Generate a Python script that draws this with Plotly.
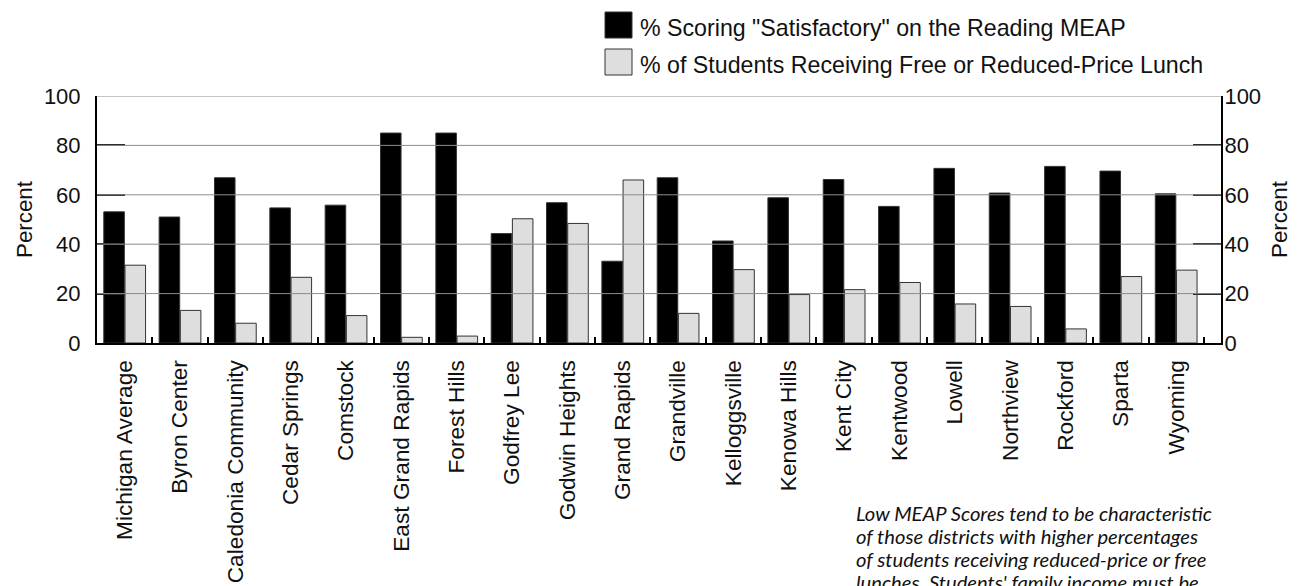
import plotly.graph_objects as go

districts = ["Michigan Average", "Byron Center", "Caledonia Community", "Cedar Springs",
             "Comstock", "East Grand Rapids", "Forest Hills", "Godfrey Lee",
             "Godwin Heights", "Grand Rapids", "Grandville", "Kelloggsville",
             "Kenowa Hills", "Kent City", "Kentwood", "Lowell", "Northview",
             "Rockford", "Sparta", "Wyoming"]
meap_satisfactory = [53.1, 51.0, 66.9, 54.7, 55.8, 85.0, 85.0, 44.3, 56.8, 33.1,
                     66.9, 41.3, 58.8, 66.2, 55.3, 70.7, 60.7, 71.5, 69.6, 60.4]
free_lunch = [31.5, 13.2, 8.0, 26.6, 11.1, 2.3, 2.8, 50.3, 48.4, 66.0,
              12.0, 29.7, 19.6, 21.6, 24.5, 15.8, 14.8, 5.7, 26.9, 29.5]
y_ticks = [0, 20, 40, 60, 80, 100]
legend_names = ['% Scoring "Satisfactory" on the Reading MEAP',
                '% of Students Receiving Free or Reduced-Price Lunch']
note_lines = ["Low MEAP Scores tend to be characteristic",
              "of those districts with higher percentages",
              "of students receiving reduced-price or free",
              "lunches. Students' family income must be"]

FIG_W, FIG_H = 1309, 586
L, R, T, B = 97, 1221, 96, 343
PW, PH = R - L, B - T

def px(xp):
    return (xp - L) / PW

def py(yp):
    return (B - yp) / PH

FONT = "Liberation Sans, Arial, sans-serif"
BLACK = "#000000"
GRAY = "#dedede"
EDGE = "#333333"
TXT = "#111111"

fig = go.Figure()
fig.add_trace(go.Bar(x=districts, y=meap_satisfactory, name=legend_names[0],
                     marker=dict(color=BLACK, line=dict(color=EDGE, width=1)),
                     showlegend=False))
fig.add_trace(go.Bar(x=districts, y=free_lunch, name=legend_names[1],
                     marker=dict(color=GRAY, line=dict(color=EDGE, width=1)),
                     showlegend=False))
# invisible trace to activate right axis
fig.add_trace(go.Scatter(x=[districts[0]], y=[None], yaxis="y2", showlegend=False,
                         hoverinfo="skip"))

n = len(districts)
fig.update_layout(
    width=FIG_W, height=FIG_H,
    margin=dict(l=L, r=FIG_W - R, t=T, b=FIG_H - B, pad=0, autoexpand=False),
    paper_bgcolor="white", plot_bgcolor="white",
    barmode="group", bargap=0.234, bargroupgap=0.03,
    font=dict(family=FONT, size=22, color=TXT),
    xaxis=dict(range=[-0.5, n - 0.19], tickangle=-90, ticks="inside",
               tickson="boundaries", ticklen=6, tickwidth=2, tickcolor=BLACK,
               showline=True, linecolor=BLACK, linewidth=2, showgrid=False,
               tickfont=dict(size=22.7, family=FONT, color=TXT), automargin=False,
               ticklabelstandoff=6, layer="above traces"),
    yaxis=dict(range=[0, 100], tickvals=y_ticks, ticks="inside", ticklen=28,
               tickcolor="#222222", tickwidth=1.5, showline=True, linecolor=BLACK,
               linewidth=2, showgrid=False, zeroline=False, automargin=False,
               title=dict(text="Percent", font=dict(size=22.3, family=FONT), standoff=5),
               tickfont=dict(size=22, family=FONT, color=TXT),
               ticklabelstandoff=10, layer="above traces"),
    yaxis2=dict(range=[0, 100], tickvals=y_ticks, overlaying="y", side="right",
                ticks="inside", ticklen=28, tickcolor="#222222", tickwidth=1.5,
                showline=True, linecolor=BLACK, linewidth=2, showgrid=False,
                zeroline=False, automargin=False,
                title=dict(text="Percent", font=dict(size=22.3, family=FONT), standoff=11),
                tickfont=dict(size=22, family=FONT, color=TXT),
                ticklabelstandoff=-3, layer="above traces"),
)

# gridlines drawn over the bars
for v in y_ticks[1:]:
    fig.add_shape(type="line", xref="paper", yref="y", x0=0, x1=1, y0=v, y1=v,
                  line=dict(color="#8c8c8c", width=1), layer="above")

# custom legend
legend_colors = [BLACK, GRAY]
legend_rows = [12, 49]
for name, col, top in zip(legend_names, legend_colors, legend_rows):
    fig.add_shape(type="rect", xref="paper", yref="paper",
                  x0=px(605), x1=px(632), y0=py(top), y1=py(top + 26),
                  fillcolor=col, line=dict(color=EDGE, width=1))
    fig.add_annotation(text=name, xref="paper", yref="paper", x=px(638),
                       y=py(top + 16), xanchor="left", yanchor="middle",
                       showarrow=False, font=dict(size=23.2, family=FONT, color=TXT))

# note: line spacing from the 17.7px base size, glyphs drawn slightly larger
note_text = "<br>".join("<span style='font-size:20.2px'><i>" + s + "</i></span>"
                        for s in note_lines)
fig.add_annotation(text=note_text, xref="paper", yref="paper", x=px(854), y=py(499),
                   xanchor="left", yanchor="top", align="left", showarrow=False,
                   font=dict(size=17.7, family="Lato, sans-serif", color=TXT))

fig.write_html("out.html", config={"displayModeBar": False},
               post_script="document.body.style.margin='0px';")
